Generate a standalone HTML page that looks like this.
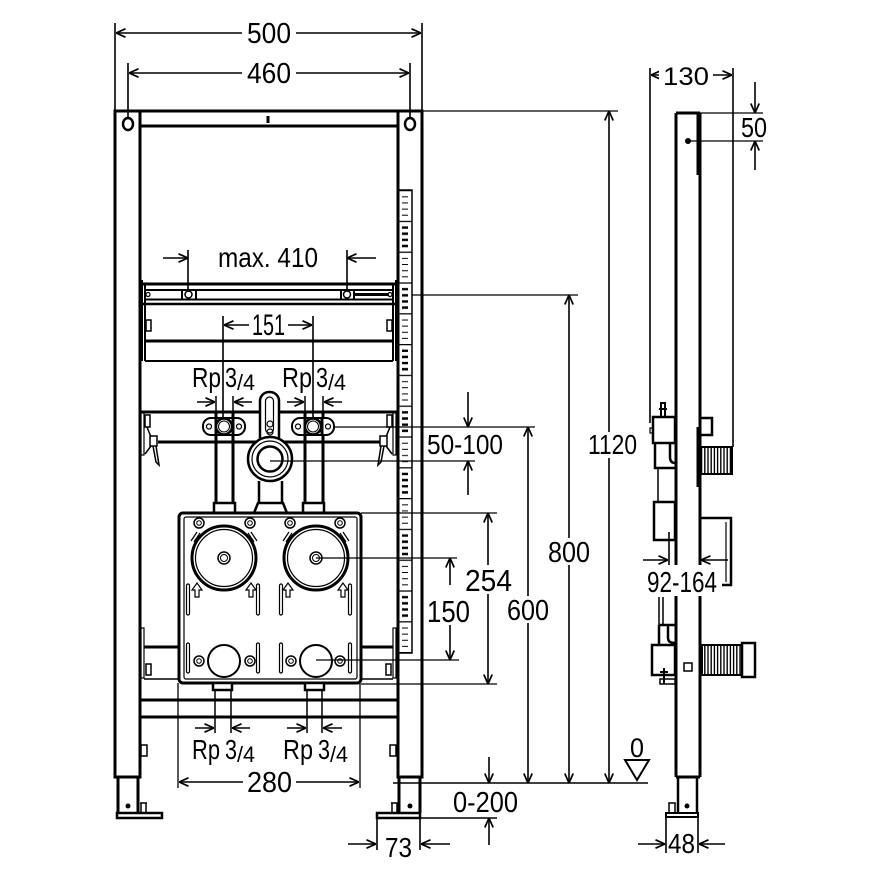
<!DOCTYPE html>
<html><head><meta charset="utf-8"><style>html,body{margin:0;padding:0;background:#fff}svg{display:block}</style></head>
<body>
<svg width="880" height="880" viewBox="0 0 880 880" xmlns="http://www.w3.org/2000/svg">
<defs>
<marker id="a" viewBox="0 0 10 10" refX="10" refY="5" markerWidth="10" markerHeight="10" markerUnits="userSpaceOnUse" orient="auto-start-reverse">
<path d="M0.5,0.8 L10,5 L0.5,9.2" fill="none" stroke="#000" stroke-width="1.7"/>
</marker>
<pattern id="rul" patternUnits="userSpaceOnUse" x="398" y="190" width="14" height="61.6">
<rect width="14" height="61.6" fill="#fff"/>
<path d="M0,0.6H14M0,31.4H14" stroke="#000" stroke-width="1.2"/>
<path d="M4,6.8H10M4,12.9H10M4,19.1H10M4,25.2H10" stroke="#000" stroke-width="1"/>
<path d="M4,37.6H10M4,43.7H10M4,49.9H10M4,56H10" stroke="#000" stroke-width="2.4"/>
</pattern>
<pattern id="rib" patternUnits="userSpaceOnUse" x="700" y="0" width="3.2" height="10">
<rect width="3.2" height="10" fill="#fff"/>
<line x1="1.6" y1="0" x2="1.6" y2="10" stroke="#000" stroke-width="1.4"/>
</pattern>
</defs>
<rect width="880" height="880" fill="#fff"/>

<g fill="none" stroke="#000">
<!-- ruler -->
<rect x="398" y="190" width="14" height="463" fill="url(#rul)" stroke-width="1.5"/>

<!-- frame posts -->
<path stroke-width="3" stroke-linecap="square" d="M115,111H422 M115,111V777H140V111 M398,111V777H422V111 M140,126H398"/>
<ellipse cx="128" cy="124" rx="5" ry="6" stroke-width="2.5"/>
<ellipse cx="410" cy="124" rx="5" ry="6" stroke-width="2.5"/>
<path stroke-width="3" d="M268,116V123"/>

<!-- rail A -->
<path stroke-width="2" d="M142,280V361 M145,284V361 M396,280V361 M393,284V361"/>
<path stroke-width="3" d="M142,284H396"/>
<path stroke-width="2" d="M145,290H393 M145,299.5H393"/>
<path stroke-width="2.5" d="M142,304H396"/>
<rect x="182" y="290" width="14" height="9.5" fill="#fff" stroke-width="2"/>
<circle cx="188.5" cy="294.5" r="3.5" stroke-width="1.5"/>
<rect x="341" y="290" width="13" height="9.5" fill="#fff" stroke-width="2"/>
<circle cx="347" cy="294.5" r="3.5" stroke-width="1.5"/>
<path d="M354,294.5H389" stroke-width="3"/>
<circle cx="148" cy="294.5" r="2" stroke-width="1.2"/>
<circle cx="390" cy="294.5" r="2" stroke-width="1.2"/>

<!-- rail B -->
<path stroke-width="3" d="M145,341H393"/>
<path stroke-width="2" d="M145,361H393"/>
<rect x="146" y="320" width="5" height="11" stroke-width="1.5"/>
<rect x="387" y="320" width="5" height="11" stroke-width="1.5"/>

<!-- rail C -->
<path stroke-width="3" d="M141,412H397 M158,442H380"/>

<!-- clips / brackets left, mirrored right -->
<g id="clipL">
<rect x="141" y="413" width="3" height="42" stroke-width="1.2"/>
<rect x="145" y="415" width="5" height="12" stroke-width="1.5" fill="#fff"/>
<path d="M147,427L151,437 M145,454L151,446 M153,446L156,462L159,465L156,446" stroke-width="1.5"/>
<rect x="150" y="436" width="7" height="10" stroke-width="1.5" fill="#fff"/>
<rect x="141" y="628" width="3" height="50" stroke-width="1.2"/>
<path d="M144,647H179" stroke-width="3"/>
<path d="M144,679H179" stroke-width="1.5"/>
<rect x="146" y="664" width="5" height="11" stroke-width="1.5"/>
<rect x="141" y="745" width="6" height="11" stroke-width="1.5"/>
</g>
<use href="#clipL" transform="translate(537,0) scale(-1,1)"/>

<!-- bottom rails -->
<path stroke-width="3" d="M141,700H397 M141,717H397"/>

<!-- pipes -->
<path stroke-width="3" d="M216,412V503 M233,412V503 M305,412V503 M323,412V503"/>
<path stroke-width="1.5" d="M216,396V412 M233,396V412 M305,396V412 M323,396V412"/>

<!-- valves -->
<g id="valve">
<rect x="203" y="418" width="42" height="17" rx="8" fill="#fff" stroke-width="2"/>
<path d="M216,418V435 M233,418V435" stroke-width="3"/>
<circle cx="224" cy="426.5" r="8" fill="#fff" stroke-width="2.5"/>
<circle cx="224" cy="426.5" r="5.5" stroke-width="1"/>
<circle cx="209" cy="426.5" r="2.5" stroke-width="1.2"/>
<circle cx="239" cy="426.5" r="2.5" stroke-width="1.2"/>
</g>
<use href="#valve" transform="translate(89,0)"/>

<!-- drain -->
<rect x="260" y="392" width="19" height="60" rx="9" fill="#fff" stroke-width="2.5"/>
<circle cx="270" cy="459" r="22" fill="#fff" stroke-width="2.5"/>
<circle cx="270" cy="459" r="18" stroke-width="1.2"/>
<circle cx="270" cy="459" r="12.5" stroke-width="2.5"/>
<rect x="265.5" y="397" width="8" height="36" rx="4" stroke-width="1.2"/>
<circle cx="270" cy="424" r="3" stroke-width="1.2"/>
<circle cx="270" cy="432" r="3" stroke-width="1.2"/>
<path stroke-width="2.5" d="M259,481V503 M282,481V503"/>
<path stroke-width="2.5" d="M254,513L258,503H283L287,513"/>

<!-- box stubs top -->
<rect x="214" y="503" width="21" height="10" stroke-width="2.5" fill="#fff"/>
<rect x="303" y="503" width="21" height="10" stroke-width="2.5" fill="#fff"/>

<!-- box -->
<rect x="179" y="513" width="182" height="170" rx="4" fill="#fff" stroke-width="3"/>
<rect x="184" y="517" width="173" height="162" rx="2" stroke-width="1.2"/>
<circle cx="224" cy="558" r="32" stroke-width="3"/>
<circle cx="224" cy="558" r="28.5" stroke-width="1.2"/>
<circle cx="224" cy="558" r="6" stroke-width="1.5"/>
<circle cx="224" cy="558" r="3.5" stroke-width="1"/>
<circle cx="316" cy="558" r="32" stroke-width="3"/>
<circle cx="316" cy="558" r="28.5" stroke-width="1.2"/>
<circle cx="316" cy="558" r="6" stroke-width="1.5"/>
<circle cx="316" cy="558" r="3.5" stroke-width="1"/>
<g stroke-width="1.5">
<circle cx="199" cy="523" r="5"/><circle cx="250" cy="523" r="5"/><circle cx="290" cy="523" r="5"/><circle cx="340" cy="523" r="5"/>
<circle cx="199" cy="661" r="5"/><circle cx="250" cy="661" r="5"/><circle cx="291" cy="661" r="5"/><circle cx="340" cy="661" r="5"/>
</g>
<g stroke-width="1">
<circle cx="199" cy="523" r="2.3"/><circle cx="250" cy="523" r="2.3"/><circle cx="290" cy="523" r="2.3"/><circle cx="340" cy="523" r="2.3"/>
<circle cx="199" cy="661" r="2.3"/><circle cx="250" cy="661" r="2.3"/><circle cx="291" cy="661" r="2.3"/><circle cx="340" cy="661" r="2.3"/>
</g>
<circle cx="224" cy="661" r="16" stroke-width="2"/>
<circle cx="316" cy="661" r="16" stroke-width="2"/>
<g stroke-width="1.2">
<rect x="186.5" y="584" width="3" height="31" rx="1.5"/><rect x="186.5" y="643" width="3" height="30" rx="1.5"/>
<rect x="256.5" y="584" width="3" height="31" rx="1.5"/><rect x="256.5" y="643" width="3" height="30" rx="1.5"/>
<rect x="279.5" y="584" width="3" height="31" rx="1.5"/><rect x="279.5" y="643" width="3" height="30" rx="1.5"/>
<rect x="348.5" y="584" width="3" height="31" rx="1.5"/><rect x="348.5" y="643" width="3" height="30" rx="1.5"/>
<path d="M195,597V590H192L197,583L202,590H199V597Z"/>
<path d="M249,597V590H246L251,583L256,590H253V597Z"/>
<path d="M286,597V590H283L288,583L293,590H290V597Z"/>
<path d="M341,597V590H338L343,583L348,590H345V597Z"/>
<path d="M191,541L197,532 M194,542L200,533 M257,541L251,532 M254,542L248,533 M283,541L289,532 M286,542L292,533 M349,541L343,532 M346,542L340,533"/>
</g>

<!-- bottom stubs -->
<rect x="213" y="683" width="19" height="7" stroke-width="2.5" fill="#fff"/>
<rect x="305" y="683" width="19" height="7" stroke-width="2.5" fill="#fff"/>
<path stroke-width="1.5" d="M215,690V733 M231,690V733 M307,690V733 M322,690V733"/>

<!-- feet -->
<path stroke-width="3" d="M118,777V813 M138,777V813"/>
<rect x="117" y="813" width="45" height="5" stroke-width="2.5"/>
<circle cx="128" cy="806" r="2.5" fill="#000" stroke="none"/>
<path stroke-width="1.5" d="M141,813V803H146V813 M140,803H147"/>
<path stroke-width="3" d="M399,777V813 M420,777V813"/>
<rect x="377" y="813" width="43" height="5" stroke-width="2.5"/>
<circle cx="410" cy="806" r="2.5" fill="#000" stroke="none"/>
<path stroke-width="1.5" d="M392,813V803H397V813 M391,803H398"/>

<!-- side view -->
<path stroke-width="3" d="M676,113V777 M700,113V777 M676,113H700 M676,777H700"/>
<path stroke-width="4" d="M698.5,113V175"/>
<path stroke-width="3" d="M698,427V487"/>
<circle cx="688" cy="141" r="3" fill="#000" stroke="none"/>
<path stroke-width="2" d="M661,417V403H665V417 M659,409H667"/>
<rect x="653" y="417" width="22" height="26" stroke-width="2.5" fill="#fff"/>
<path stroke-width="2.5" d="M655,443V468H675 M670,443V457Q670,463 675,463"/>
<rect x="650" y="428" width="3" height="5" stroke-width="1.2"/>
<path stroke-width="1.5" d="M658,468V502"/>
<rect x="654" y="502" width="21" height="38" stroke-width="2.5"/>
<path stroke-width="1.5" d="M659,597V625 M663,597V625"/>
<path stroke-width="2.5" d="M659,625H675 M659,625V645 M668,625V638Q668,643 675,643"/>
<rect x="652" y="645" width="23" height="30" stroke-width="2.5"/>
<path stroke-width="2" d="M664,668V684 M660,672H668"/>
<rect x="660" y="679" width="15" height="5" stroke-width="1.5"/>
<rect x="700" y="418" width="12" height="17" stroke-width="2.5"/>
<rect x="700" y="447" width="32" height="27" fill="url(#rib)" stroke-width="2"/>
<path stroke-width="2.5" d="M700,518H731V585H722"/>
<path stroke-width="1.2" d="M726,522V582"/>
<rect x="702" y="645" width="40" height="30" fill="url(#rib)" stroke-width="2"/>
<rect x="742" y="643" width="13" height="34" stroke-width="2.5"/>
<rect x="684" y="663" width="8" height="8" stroke-width="1.5"/>
<path stroke-width="2.5" d="M678,777V813 M697,777V813"/>
<rect x="666" y="813" width="32" height="4" stroke-width="2"/>
<circle cx="687" cy="806" r="2.5" fill="#000" stroke="none"/>
<path stroke-width="1.5" d="M669,813V803H675V813"/>

<!-- dimensions -->
<g stroke-width="1.6">
<path d="M115,23V111 M422,23V111"/>
<line x1="116" y1="33" x2="421" y2="33" marker-start="url(#a)" marker-end="url(#a)"/>
<path d="M128,63V118 M410,63V118"/>
<line x1="129" y1="73" x2="409" y2="73" marker-start="url(#a)" marker-end="url(#a)"/>
<line x1="163" y1="258" x2="188" y2="258" marker-end="url(#a)"/>
<line x1="376" y1="258" x2="347" y2="258" marker-end="url(#a)"/>
<path d="M188,250V290 M347,250V290"/>
<path d="M223,316V419 M313,316V419"/>
<line x1="250" y1="325" x2="224" y2="325" marker-end="url(#a)"/>
<line x1="287" y1="325" x2="312" y2="325" marker-end="url(#a)"/>
<line x1="197" y1="402" x2="215" y2="402" marker-end="url(#a)"/>
<line x1="252" y1="402" x2="234" y2="402" marker-end="url(#a)"/>
<line x1="287" y1="402" x2="304" y2="402" marker-end="url(#a)"/>
<line x1="342" y1="402" x2="324" y2="402" marker-end="url(#a)"/>
<path d="M333,427H535 M270,461H475" stroke-width="1.3"/>
<line x1="468" y1="392" x2="468" y2="427" marker-end="url(#a)"/>
<line x1="468" y1="495" x2="468" y2="461" marker-end="url(#a)"/>
<line x1="528" y1="427" x2="528" y2="783" marker-start="url(#a)" marker-end="url(#a)"/>
<path d="M412,295H578" stroke-width="1.3"/>
<line x1="569" y1="295" x2="569" y2="783" marker-start="url(#a)" marker-end="url(#a)"/>
<path d="M422,111H618" stroke-width="1.3"/>
<line x1="609" y1="111" x2="609" y2="783" marker-start="url(#a)" marker-end="url(#a)"/>
<path d="M361,513H497 M361,684H497" stroke-width="1.3"/>
<line x1="488" y1="513" x2="488" y2="684" marker-start="url(#a)" marker-end="url(#a)"/>
<path d="M316,558H457 M316,660H459" stroke-width="1.3"/>
<line x1="450" y1="558" x2="450" y2="660" marker-start="url(#a)" marker-end="url(#a)"/>
<line x1="489" y1="757" x2="489" y2="783" marker-end="url(#a)"/>
<line x1="489" y1="845" x2="489" y2="818" marker-end="url(#a)"/>
<path d="M420,818H497"/>
<path d="M393,783H648"/>
<path d="M625,760H649L637,780Z" stroke-width="2"/>
<path d="M178,683V788 M360,683V788" stroke-width="1.3"/>
<line x1="179" y1="782" x2="359" y2="782" marker-start="url(#a)" marker-end="url(#a)"/>
<line x1="195" y1="728" x2="214" y2="728" marker-end="url(#a)"/>
<line x1="250" y1="728" x2="232" y2="728" marker-end="url(#a)"/>
<line x1="287" y1="728" x2="306" y2="728" marker-end="url(#a)"/>
<line x1="342" y1="728" x2="323" y2="728" marker-end="url(#a)"/>
<path d="M377,818V850 M420,818V850"/>
<line x1="348" y1="844" x2="376" y2="844" marker-end="url(#a)"/>
<line x1="450" y1="844" x2="421" y2="844" marker-end="url(#a)"/>
<path d="M650,68V423 M733,68V447"/>
<line x1="651" y1="75" x2="732" y2="75" marker-start="url(#a)" marker-end="url(#a)"/>
<path d="M700,113H763 M688,141H763" stroke-width="1.3"/>
<line x1="755" y1="82" x2="755" y2="113" marker-end="url(#a)"/>
<line x1="755" y1="170" x2="755" y2="141" marker-end="url(#a)"/>
<path d="M669,532V565"/>
<line x1="643" y1="560" x2="668" y2="560" marker-end="url(#a)"/>
<line x1="728" y1="560" x2="701" y2="560" marker-end="url(#a)"/>
<path d="M666,817V853 M698,817V853"/>
<line x1="638" y1="844" x2="665" y2="844" marker-end="url(#a)"/>
<line x1="725" y1="844" x2="699" y2="844" marker-end="url(#a)"/>
</g>
</g>

<!-- text backgrounds -->
<g fill="#fff">
<rect x="242" y="20" width="54" height="26"/>
<rect x="242" y="60" width="54" height="26"/>
<rect x="249" y="311" width="39" height="27"/>
<rect x="585" y="432" width="55" height="26"/>
<rect x="545" y="538" width="48" height="27"/>
<rect x="504" y="596" width="48" height="27"/>
<rect x="462" y="565" width="53" height="29"/>
<rect x="424" y="585" width="49" height="40"/>
<rect x="243" y="769" width="53" height="26"/>
<rect x="659" y="64" width="54" height="24"/>
<rect x="644" y="565" width="77" height="31"/>
</g>

<!-- texts -->
<g font-family="'Liberation Sans', sans-serif" fill="#000" lengthAdjust="spacingAndGlyphs">
<text x="247" y="43" font-size="29" textLength="44" lengthAdjust="spacingAndGlyphs">500</text>
<text x="247" y="83" font-size="29" textLength="44" lengthAdjust="spacingAndGlyphs">460</text>
<text x="218" y="267" font-size="28" textLength="100" lengthAdjust="spacingAndGlyphs">max. 410</text>
<text x="252" y="335" font-size="30" textLength="33" lengthAdjust="spacingAndGlyphs">151</text>
<text x="192" y="387" font-size="28" textLength="29" lengthAdjust="spacingAndGlyphs">Rp</text>
<text x="225" y="387" font-size="28" textLength="12" lengthAdjust="spacingAndGlyphs">3</text>
<text x="237" y="390" font-size="22" textLength="18" lengthAdjust="spacingAndGlyphs">/4</text>
<text x="282" y="387" font-size="28" textLength="30" lengthAdjust="spacingAndGlyphs">Rp</text>
<text x="316" y="387" font-size="28" textLength="12" lengthAdjust="spacingAndGlyphs">3</text>
<text x="328" y="390" font-size="22" textLength="18" lengthAdjust="spacingAndGlyphs">/4</text>
<text x="427" y="454" font-size="28" textLength="76" lengthAdjust="spacingAndGlyphs">50-100</text>
<text x="588" y="454" font-size="28" textLength="49" lengthAdjust="spacingAndGlyphs">1120</text>
<text x="548" y="562" font-size="29" textLength="42" lengthAdjust="spacingAndGlyphs">800</text>
<text x="465" y="591" font-size="31" textLength="47" lengthAdjust="spacingAndGlyphs">254</text>
<text x="427" y="622" font-size="31" textLength="43" lengthAdjust="spacingAndGlyphs">150</text>
<text x="507" y="620" font-size="29" textLength="42" lengthAdjust="spacingAndGlyphs">600</text>
<text x="630" y="757" font-size="27" textLength="14" lengthAdjust="spacingAndGlyphs">0</text>
<text x="453" y="812" font-size="29" textLength="65" lengthAdjust="spacingAndGlyphs">0-200</text>
<text x="385" y="857" font-size="28" textLength="27" lengthAdjust="spacingAndGlyphs">73</text>
<text x="192" y="759" font-size="28" textLength="28" lengthAdjust="spacingAndGlyphs">Rp</text>
<text x="225" y="759" font-size="28" textLength="12" lengthAdjust="spacingAndGlyphs">3</text>
<text x="237" y="762" font-size="22" textLength="18" lengthAdjust="spacingAndGlyphs">/4</text>
<text x="283" y="759" font-size="28" textLength="30" lengthAdjust="spacingAndGlyphs">Rp</text>
<text x="318" y="759" font-size="28" textLength="12" lengthAdjust="spacingAndGlyphs">3</text>
<text x="330" y="762" font-size="22" textLength="18" lengthAdjust="spacingAndGlyphs">/4</text>
<text x="247" y="792" font-size="29" textLength="45" lengthAdjust="spacingAndGlyphs">280</text>
<text x="663" y="85" font-size="25" textLength="46" lengthAdjust="spacingAndGlyphs">130</text>
<text x="741" y="137" font-size="28" textLength="26" lengthAdjust="spacingAndGlyphs">50</text>
<text x="647" y="592" font-size="29" textLength="70" lengthAdjust="spacingAndGlyphs">92-164</text>
<text x="668" y="853" font-size="28" textLength="27" lengthAdjust="spacingAndGlyphs">48</text>
</g>
</svg>
</body></html>
